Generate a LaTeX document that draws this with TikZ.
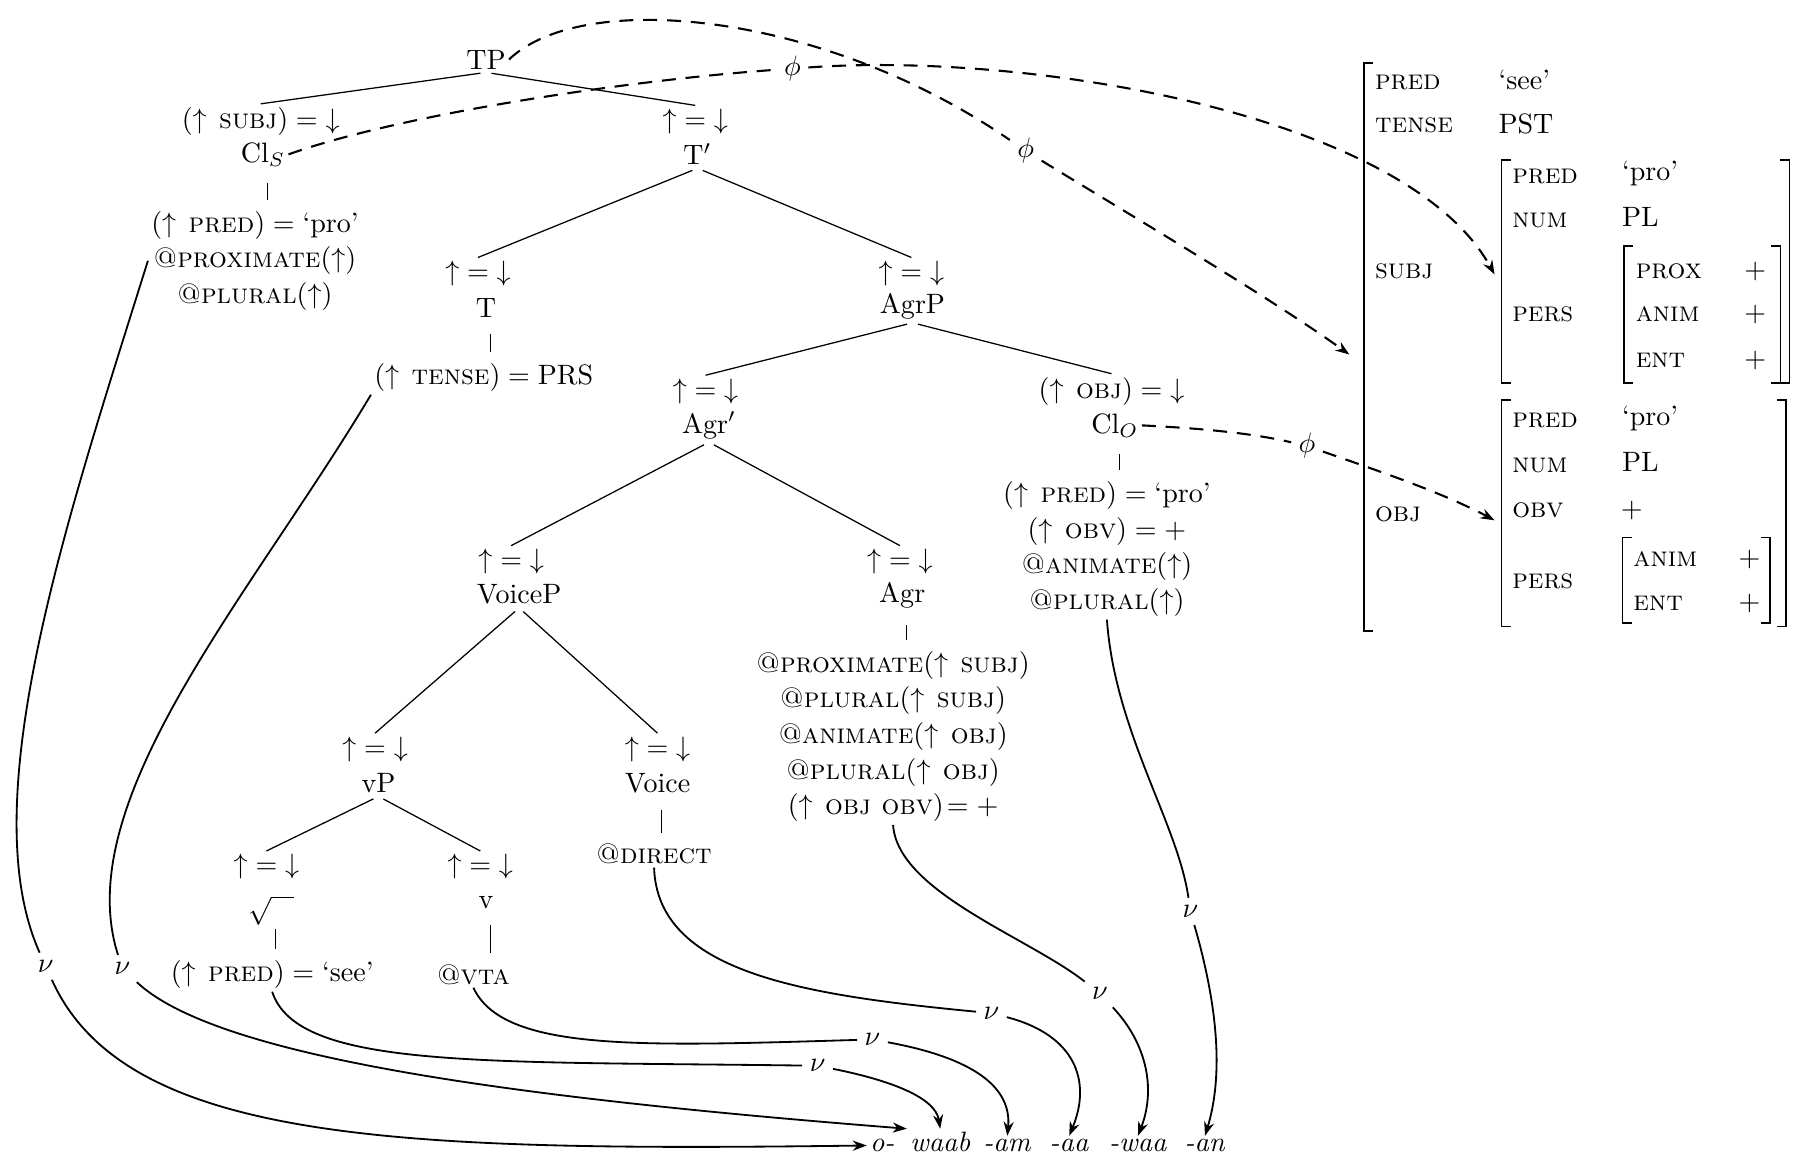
\documentclass[tikz,border=0pt]{standalone}
\usetikzlibrary{arrows.meta}
\newcommand{\UpEqDown}{$\mathord{\uparrow}=\mathord{\downarrow}$}
\begin{document}
\begin{tikzpicture}[x=0.408pt,y=-0.408pt,
  lab/.style={inner sep=1pt},
  stack/.style={align=center, inner sep=1pt, font=\fontsize{10pt}{12.7pt}\selectfont},
  tree/.style={line width=0.45pt, shorten <=2pt},
  tick/.style={line width=0.4pt, shorten <=4.7pt, shorten >=2.8pt},
  link/.style={line width=0.65pt},
  arr/.style={link, -{Stealth[length=5pt,width=3.6pt]}},
  dsh/.style={line width=0.75pt, dash pattern=on 5pt off 3.5pt},
  darr/.style={dsh, -{Stealth[length=5pt,width=3.6pt]}},
  nu/.style={inner sep=2.5pt},
  phinode/.style={inner sep=2.5pt},
  avm/.style={anchor=west, inner sep=0pt},
  pl/.style={anchor=center, inner sep=0pt},
  brk/.style={line width=0.55pt}]
\useasboundingbox (0,0) rectangle (1568,1021);

% ---------------- tree ----------------
\node[lab] (TP) at (425,52) {TP};
\node[lab] (sbjeq) at (228,106) {$(\uparrow\mbox{\,\textsc{subj}}) = \mathord{\downarrow}$};
\node[lab] (cls) at (230,135) {Cl$_S$};
\node[stack] (clsinfo) at (223,228) {$(\uparrow\mbox{\,\textsc{pred}}) = \mbox{`pro'}$\\\textsc{@proximate}$(\uparrow)$\\\textsc{@plural}$(\uparrow)$};
\node[lab] (teq) at (608,106) {\UpEqDown};
\node[lab] (tbar) at (610,135) {T$'$};
\node[lab] (eqT) at (418,239) {\UpEqDown};
\node[lab] (T) at (425,269) {T};
\node[lab] (tense) at (423,330) {$(\uparrow\mbox{\,\textsc{tense}}) = \mbox{PRS}$};
\node[lab] (eqAgrP) at (797,239) {\UpEqDown};
\node[lab] (AgrP) at (798,268) {AgrP};
\node[lab] (eqAgrbar) at (617,342) {\UpEqDown};
\node[lab] (Agrbar) at (620,372) {Agr$'$};
\node[lab] (objeq) at (972,342) {$(\uparrow\mbox{\,\textsc{obj}}) = \mathord{\downarrow}$};
\node[lab] (clo) at (975,372) {Cl$_O$};
\node[stack] (cloinfo) at (968,480) {$(\uparrow\mbox{\,\textsc{pred}}) = \mbox{`pro'}$\\$(\uparrow\mbox{\,\textsc{obv}}) = +$\\\textsc{@animate}$(\uparrow)$\\\textsc{@plural}$(\uparrow)$};
\node[lab] (eqVoiceP) at (447,491) {\UpEqDown};
\node[lab] (VoiceP) at (454,520) {VoiceP};
\node[lab] (eqAgr) at (787,491) {\UpEqDown};
\node[lab] (Agr) at (789,521) {Agr};
\node[stack] (agrinfo) at (781,644) {\textsc{@proximate}$(\uparrow\mbox{\,\textsc{subj}})$\\\textsc{@plural}$(\uparrow\mbox{\,\textsc{subj}})$\\\textsc{@animate}$(\uparrow\mbox{\,\textsc{obj}})$\\\textsc{@plural}$(\uparrow\mbox{\,\textsc{obj}})$\\$(\uparrow\mbox{\,\textsc{obj\ obv}})\!= +$};
\node[lab] (eqvP) at (328,655) {\UpEqDown};
\node[lab] (vP) at (331,685) {vP};
\node[lab] (eqVoice) at (575,655) {\UpEqDown};
\node[lab] (Voice) at (575,685) {Voice};
\node[lab] (direct) at (572,747) {\textsc{@direct}};
\node[lab] (eqroot) at (233,758) {\UpEqDown};
\node[inner sep=0pt, anchor=base, text height=7pt, text depth=1pt] (root) at (237,798) {$\sqrt{\hspace{8pt}}$};
\node[lab] (see) at (238,852) {$(\uparrow\mbox{\,\textsc{pred}}) = \mbox{`see'}$};
\node[lab] (eqv) at (420,758) {\UpEqDown};
\node[lab] (vnode) at (425,789) {v};
\node[lab] (vta) at (414,852) {\textsc{@vta}};

\draw[tree] (TP.south) -- (sbjeq.north);
\draw[tree] (TP.south) -- (teq.north);
\draw[tree] (tbar.south) -- (eqT.north);
\draw[tree] (tbar.south) -- (eqAgrP.north);
\draw[tree] (AgrP.south) -- (eqAgrbar.north);
\draw[tree] (AgrP.south) -- (objeq.north);
\draw[tree] (Agrbar.south) -- (eqVoiceP.north);
\draw[tree] (Agrbar.south) -- (eqAgr.north);
\draw[tree] (VoiceP.south) -- (eqvP.north);
\draw[tree] (VoiceP.south) -- (eqVoice.north);
\draw[tree] (vP.south) -- (eqroot.north);
\draw[tree] (vP.south) -- (eqv.north);

\draw[tick] ([xshift=1.5pt]cls.south) -- ([xshift=1.5pt]cls.south |- clsinfo.north);
\draw[tick] ([xshift=1.5pt]T.south) -- ([xshift=1.5pt]T.south |- tense.north);
\draw[tick] ([xshift=1.5pt]clo.south) -- ([xshift=1.5pt]clo.south |- cloinfo.north);
\draw[tick] ([xshift=1.5pt]Agr.south) -- ([xshift=1.5pt]Agr.south |- agrinfo.north);
\draw[tick] ([xshift=1.5pt]Voice.south) -- ([xshift=1.5pt]Voice.south |- direct.north);
\draw[tick] ([xshift=1.5pt]root.south) -- ([xshift=1.5pt]root.south |- see.north);
\draw[tick] ([xshift=1.5pt]vnode.south) -- ([xshift=1.5pt]vnode.south |- vta.north);

% ---------------- string ----------------
\node[inner sep=1pt, anchor=base west] (m1) at (758,1007) {\textit{o-}};
\node[inner sep=1pt, anchor=base west] (m2) at (793,1007) {\textit{waab}};
\node[inner sep=1pt, anchor=base west] (m3) at (857,1007) {\textit{-am}};
\node[inner sep=1pt, anchor=base west] (m4) at (915,1007) {\textit{-aa}};
\node[inner sep=1pt, anchor=base west] (m5) at (967,1007) {\textit{-waa}};
\node[inner sep=1pt, anchor=base west] (m6) at (1033,1007) {\textit{-an}};

% ---------------- nu labels ----------------
\node[nu] (nu1) at (40,845) {$\nu$};
\node[nu] (nu2) at (107,847) {$\nu$};
\node[nu] (nu3) at (715,932) {$\nu$};
\node[nu] (nu4) at (763,909) {$\nu$};
\node[nu] (nu5) at (867,886) {$\nu$};
\node[nu] (nu6) at (962,869) {$\nu$};
\node[nu] (nu7) at (1041,797) {$\nu$};

\draw[link] (clsinfo.west) .. controls (60,450) and (-25,700) .. (nu1);
\draw[arr] (nu1) .. controls (110,1000) and (350,1007) .. (m1.west);
\draw[link] (tense.south west) .. controls (220,520) and (60,700) .. (nu2);
\draw[arr] (nu2) .. controls (190,925) and (450,960) .. (m2.north west);
\draw[link] (see.south) .. controls (260,935) and (420,928) .. (nu3);
\draw[arr] (nu3) .. controls (780,945) and (818,960) .. (m2.north);
\draw[link] (vta.south) .. controls (440,920) and (560,915) .. (nu4);
\draw[arr] (nu4) .. controls (850,925) and (885,950) .. (m3.north);
\draw[link] (direct.south) .. controls (575,850) and (700,870) .. (nu5);
\draw[arr] (nu5) .. controls (940,905) and (955,945) .. (m4.north);
\draw[link] (agrinfo.south) .. controls (785,780) and (900,820) .. (nu6);
\draw[arr] (nu6) .. controls (1005,915) and (1010,955) .. (m5.north);
\draw[link] (cloinfo.south) .. controls (975,640) and (1030,720) .. (nu7);
\draw[arr] (nu7) .. controls (1065,880) and (1070,940) .. (m6.north);

% ---------------- phi links ----------------
\node[phinode] (phi1) at (897,132) {$\phi$};
\node[phinode] (phi2) at (693,60) {$\phi$};
\node[phinode] (phi3) at (1143,390) {$\phi$};
\coordinate (fsout) at (1180,310);
\coordinate (fssubj) at (1307,240);
\coordinate (fsobj) at (1307,455);

\draw[dsh] (TP.east) .. controls (510,-10) and (720,10) .. (phi1);
\draw[darr] (phi1) .. controls (1000,195) and (1110,260) .. (fsout);
\draw[dsh] (cls.east) .. controls (350,100) and (550,70) .. (phi2);
\draw[darr] (phi2) .. controls (900,45) and (1230,100) .. (fssubj);
\draw[dsh] (clo.east) .. controls (1060,375) and (1100,380) .. (phi3);
\draw[darr] (phi3) .. controls (1200,410) and (1260,430) .. (fsobj);

% ---------------- f-structure ----------------
\draw[brk] (1201,55) -- (1193,55) -- (1193,552) -- (1201,552);
\node[avm] (a1) at (1202,72) {\textsc{pred}};
\node[avm] (a2) at (1310,70) {`see'};
\node[avm] (a3) at (1202,110) {\textsc{tense}};
\node[avm] (a4) at (1310,108) {PST};
\node[avm] (a5) at (1202,237) {\textsc{subj}};
\node[avm] (a6) at (1202,450) {\textsc{obj}};

\draw[brk] (1321,140) -- (1313,140) -- (1313,335) -- (1321,335);
\draw[brk] (1557,140) -- (1565,140) -- (1565,335) -- (1557,335);
\node[avm] (b1) at (1322,154) {\textsc{pred}};
\node[avm] (b2) at (1418,152) {`pro'};
\node[avm] (b3) at (1322,193) {\textsc{num}};
\node[avm] (b4) at (1418,190) {PL};
\node[avm] (b5) at (1322,275) {\textsc{pers}};
\draw[brk] (1428,215) -- (1420,215) -- (1420,335) -- (1428,335);
\draw[brk] (1549,215) -- (1557,215) -- (1557,335) -- (1549,335);
\node[avm] (c1) at (1430,237) {\textsc{prox}};
\node[pl] (c2) at (1535,237) {$+$};
\node[avm] (c3) at (1430,275) {\textsc{anim}};
\node[pl] (c4) at (1535,275) {$+$};
\node[avm] (c5) at (1430,315) {\textsc{ent}};
\node[pl] (c6) at (1535,315) {$+$};

\draw[brk] (1321,350) -- (1313,350) -- (1313,548) -- (1321,548);
\draw[brk] (1554,350) -- (1562,350) -- (1562,548) -- (1554,548);
\node[avm] (d1) at (1322,368) {\textsc{pred}};
\node[avm] (d2) at (1418,366) {`pro'};
\node[avm] (d3) at (1322,407) {\textsc{num}};
\node[avm] (d4) at (1418,404) {PL};
\node[avm] (d5) at (1322,446) {\textsc{obv}};
\node[pl] (d6) at (1427,446) {$+$};
\node[avm] (d7) at (1322,508) {\textsc{pers}};
\draw[brk] (1427,470) -- (1419,470) -- (1419,545) -- (1427,545);
\draw[brk] (1540,470) -- (1548,470) -- (1548,545) -- (1540,545);
\node[avm] (e1) at (1428,489) {\textsc{anim}};
\node[pl] (e2) at (1530,489) {$+$};
\node[avm] (e3) at (1428,528) {\textsc{ent}};
\node[pl] (e4) at (1530,528) {$+$};
\end{tikzpicture}
\end{document}
